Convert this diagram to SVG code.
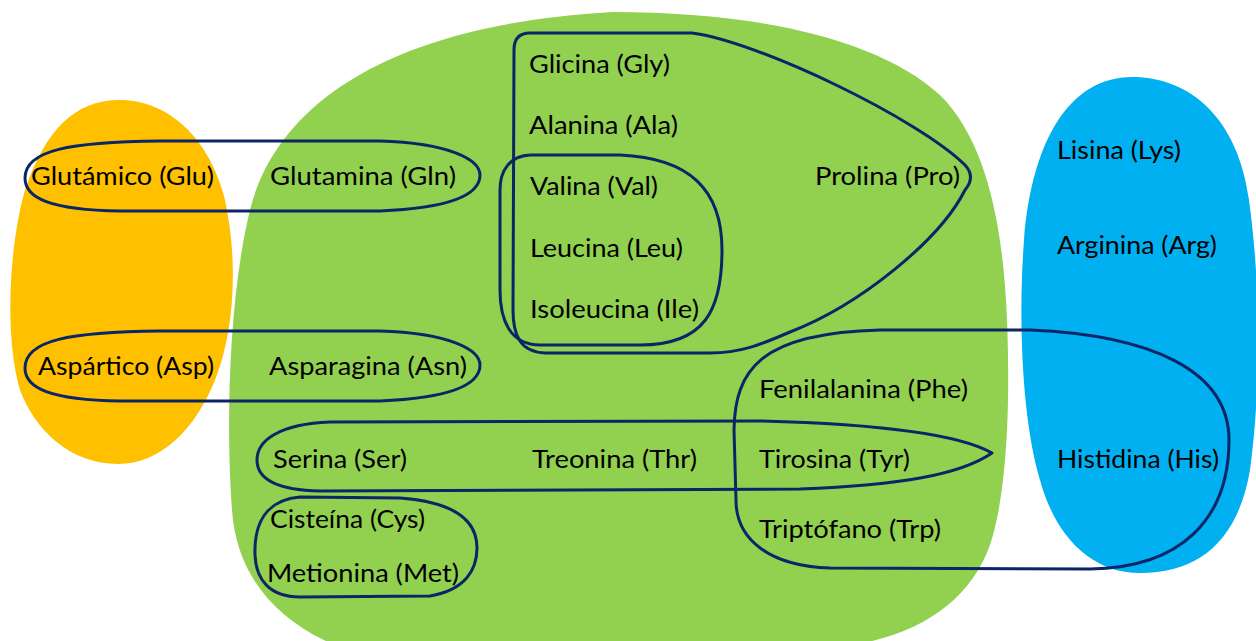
<svg xmlns="http://www.w3.org/2000/svg" width="1256" height="641" viewBox="0 0 1256 641">
<style>
.loop{fill:none;stroke:#0B2566;stroke-width:3;stroke-linejoin:round}
.t{font-family:Lato,"Open Sans","Liberation Sans",sans-serif;font-size:25.5px;fill:#000}
</style>
<rect width="1256" height="641" fill="#fff"/>
<g id="blob-acidic"><path fill="#FFC000" d="M 119,100 C 170,100 210,140 225,200 C 238,260 235,330 215,380 C 195,430 160,464 118,464 C 70,464 35,430 20,390 C 5,340 8,250 25,190 C 45,130 75,100 119,100 Z"/></g>
<g id="blob-neutral"><path fill="#92D050" d="M 613,12 C 760,12 880,40 940,95 C 985,140 1003,220 1007,320 C 1011,420 1005,500 990,545 C 972,595 930,628 868,642 L 868,660 L 328,660 L 328,642 C 270,615 236,570 232,510 C 226,430 228,300 250,210 C 275,110 380,25 613,12 Z"/></g>
<g id="blob-basic"><path fill="#00B0F0" d="M 1132,77 C 1190,77 1238,118 1249,200 C 1260,280 1262,380 1250,470 C 1238,540 1200,573 1140,573 C 1090,573 1055,535 1040,480 C 1022,420 1018,320 1024,240 C 1032,140 1070,77 1132,77 Z"/></g>
<g id="connectors">
<path class="loop" d="M 25,178 C 25,150 70,142 160,141 L 380,141 C 450,143 480,160 480,175 C 480,195 450,208 380,211 L 120,211 C 50,210 25,198 25,178 Z"/>
<path class="loop" d="M 25,368 C 25,340 70,332 160,331 L 380,331 C 450,333 480,350 480,365 C 480,385 450,398 380,401 L 120,401 C 50,400 25,388 25,368 Z"/>
<path class="loop" d="M 530,33 L 692,33 C 760,42 920,120 965,165 Q 976,177 965,190 C 940,240 860,305 790,332 C 760,345 740,353 710,353 L 545,353 C 520,352 513,335 513,310 L 514,50 C 514,38 520,33 530,33 Z"/>
<path class="loop" d="M 530,155 L 620,155 C 690,158 722,190 722,250 C 722,310 705,345 640,345 L 540,345 C 510,345 500,320 500,290 L 500,190 C 500,170 510,156 530,155 Z"/>
<path class="loop" d="M 880,330 L 1030,330 C 1150,335 1229,370 1229,440 C 1229,520 1180,568 1090,569 L 830,568 C 770,566 736,540 736,500 L 734,430 C 735,370 760,333 880,330 Z"/>
<path class="loop" d="M 330,422 L 760,421 C 880,424 960,435 992,453 C 960,475 900,485 800,489 L 320,491 C 275,490 257,478 257,460 C 257,440 280,424 330,422 Z"/>
<path class="loop" d="M 300,497 L 400,498 C 455,502 477,520 477,548 C 477,570 465,590 430,596 L 300,597 C 270,597 256,580 255,555 C 254,525 265,500 300,497 Z"/>
</g>
<g id="n-glu"><text class="t" x="31" y="185" textLength="183" lengthAdjust="spacingAndGlyphs">Glutámico (Glu)</text></g>
<g id="n-gln"><text class="t" x="270" y="185" textLength="186" lengthAdjust="spacingAndGlyphs">Glutamina (Gln)</text></g>
<g id="n-gly"><text class="t" x="529" y="73" textLength="141" lengthAdjust="spacingAndGlyphs">Glicina (Gly)</text></g>
<g id="n-ala"><text class="t" x="529" y="134" textLength="149" lengthAdjust="spacingAndGlyphs">Alanina (Ala)</text></g>
<g id="n-val"><text class="t" x="530" y="195" textLength="128" lengthAdjust="spacingAndGlyphs">Valina (Val)</text></g>
<g id="n-leu"><text class="t" x="530" y="257" textLength="153" lengthAdjust="spacingAndGlyphs">Leucina (Leu)</text></g>
<g id="n-ile"><text class="t" x="530" y="318" textLength="169" lengthAdjust="spacingAndGlyphs">Isoleucina (Ile)</text></g>
<g id="n-pro"><text class="t" x="815" y="185" textLength="145" lengthAdjust="spacingAndGlyphs">Prolina (Pro)</text></g>
<g id="n-lys"><text class="t" x="1057" y="159" textLength="124" lengthAdjust="spacingAndGlyphs">Lisina (Lys)</text></g>
<g id="n-arg"><text class="t" x="1057" y="254" textLength="160" lengthAdjust="spacingAndGlyphs">Arginina (Arg)</text></g>
<g id="n-asp"><text class="t" x="38" y="375" textLength="176" lengthAdjust="spacingAndGlyphs">Aspártico (Asp)</text></g>
<g id="n-asn"><text class="t" x="269" y="375" textLength="198" lengthAdjust="spacingAndGlyphs">Asparagina (Asn)</text></g>
<g id="n-ser"><text class="t" x="273" y="468" textLength="134" lengthAdjust="spacingAndGlyphs">Serina (Ser)</text></g>
<g id="n-thr"><text class="t" x="532" y="468" textLength="165" lengthAdjust="spacingAndGlyphs">Treonina (Thr)</text></g>
<g id="n-cys"><text class="t" x="270" y="528" textLength="155" lengthAdjust="spacingAndGlyphs">Cisteína (Cys)</text></g>
<g id="n-met"><text class="t" x="267" y="582" textLength="192" lengthAdjust="spacingAndGlyphs">Metionina (Met)</text></g>
<g id="n-phe"><text class="t" x="759" y="398" textLength="209" lengthAdjust="spacingAndGlyphs">Fenilalanina (Phe)</text></g>
<g id="n-tyr"><text class="t" x="759" y="468" textLength="151" lengthAdjust="spacingAndGlyphs">Tirosina (Tyr)</text></g>
<g id="n-trp"><text class="t" x="759" y="538" textLength="182" lengthAdjust="spacingAndGlyphs">Triptófano (Trp)</text></g>
<g id="n-his"><text class="t" x="1057" y="468" textLength="162" lengthAdjust="spacingAndGlyphs">Histidina (His)</text></g>
</svg>
